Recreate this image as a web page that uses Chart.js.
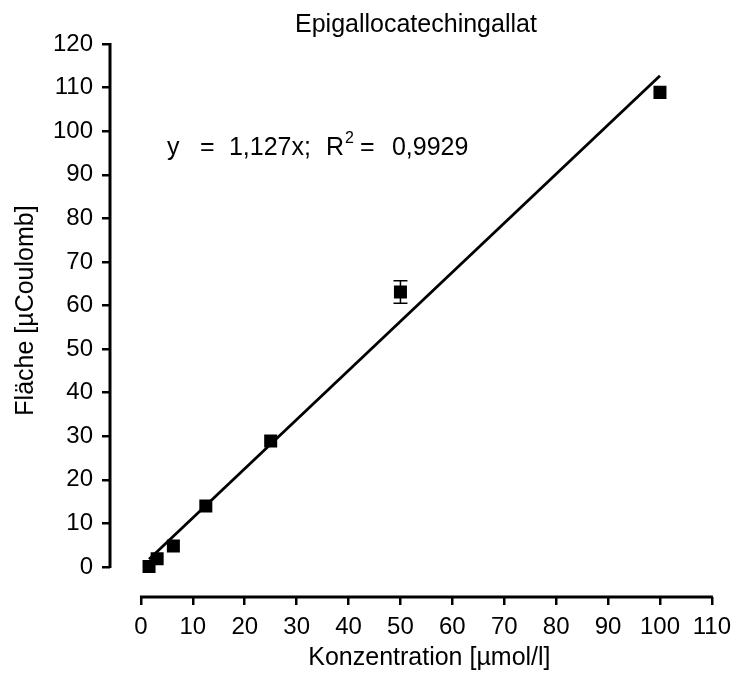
<!DOCTYPE html>
<html>
<head>
<meta charset="utf-8">
<title>Epigallocatechingallat</title>
<script src="https://cdn.jsdelivr.net/npm/chart.js@4.4.1/dist/chart.umd.min.js"></script>
<style>
  html, body { margin: 0; padding: 0; background: #fff; }
  canvas { display: block; }
</style>
</head>
<body>
<canvas id="chart" width="739" height="676"></canvas>
<script>
// Calibration curve, Epigallocatechingallat

const FONT = '"Liberation Sans", Arial, Helvetica, sans-serif';

const xTicks = [0, 10, 20, 30, 40, 50, 60, 70, 80, 90, 100, 110];
const yTicks = [0, 10, 20, 30, 40, 50, 60, 70, 80, 90, 100, 110, 120];

// measured points (mean, SD)
const concentrations = [1.5625, 3.125, 6.25, 12.5, 25, 50, 100];
const areas          = [0.1, 1.9, 4.8, 14.0, 28.9, 63.1, 108.9];
const areaSD         = [0, 0, 0, 0, 0, 2.6, 0];

// regression line end points
const fitX = [1.5625, 100];
const fitY = [1.76, 112.7];

// axis ranges (the axes are drawn offset from the data)
const xRange = [-5.96, 110];
const yRange = [-6.88, 120];

const titleText = 'Epigallocatechingallat';
const xTitle = 'Konzentration [µmol/l]';
const yTitle = 'Fläche [µCoulomb]';

function fixedTicks(values) {
  return scale => { scale.ticks = values.map(v => ({ value: v })); };
}

// white background, offset axis lines, error bars and texts
const decorations = {
  id: 'decorations',
  beforeDraw(chart) {
    const { ctx } = chart;
    ctx.save();
    ctx.fillStyle = '#fff';
    ctx.fillRect(0, 0, chart.width, chart.height);
    ctx.restore();
  },
  afterDraw(chart) {
    const { ctx, chartArea, scales: { x, y } } = chart;
    ctx.save();
    ctx.strokeStyle = '#000';
    ctx.fillStyle = '#000';
    ctx.lineCap = 'butt';

    // axis lines only across the tick range
    ctx.lineWidth = 3;
    ctx.beginPath();
    ctx.moveTo(chartArea.left, y.getPixelForValue(yTicks[0]) + 1);
    ctx.lineTo(chartArea.left, y.getPixelForValue(yTicks[yTicks.length - 1]) - 1);
    ctx.moveTo(x.getPixelForValue(xTicks[0]) - 1, chartArea.bottom);
    ctx.lineTo(x.getPixelForValue(xTicks[xTicks.length - 1]) + 1, chartArea.bottom);
    ctx.stroke();

    // error bars
    ctx.lineWidth = 1.5;
    concentrations.forEach((c, i) => {
      if (!areaSD[i]) return;
      const px = x.getPixelForValue(c);
      const top = y.getPixelForValue(areas[i] + areaSD[i]);
      const bot = y.getPixelForValue(areas[i] - areaSD[i]);
      ctx.beginPath();
      ctx.moveTo(px, top); ctx.lineTo(px, bot);
      ctx.moveTo(px - 7, top); ctx.lineTo(px + 7, top);
      ctx.moveTo(px - 7, bot); ctx.lineTo(px + 7, bot);
      ctx.stroke();
    });

    // title and axis titles
    ctx.font = '25px ' + FONT;
    ctx.textAlign = 'center';
    ctx.textBaseline = 'alphabetic';
    ctx.fillText(titleText, (chartArea.left + chartArea.right) / 2 + 5, 32);
    ctx.fillText(xTitle, (x.getPixelForValue(0) + x.getPixelForValue(110)) / 2 + 3, 665);

    ctx.save();
    ctx.translate(33, (y.getPixelForValue(0) + y.getPixelForValue(120)) / 2 + 5);
    ctx.rotate(-Math.PI / 2);
    ctx.fillText(yTitle, 0, 0);
    ctx.restore();

    // regression equation
    const ax = x.getPixelForValue(5);
    const ay = y.getPixelForValue(94.5);
    ctx.textAlign = 'left';
    ctx.font = '25px ' + FONT;
    ctx.fillText('y', ax, ay);
    ctx.fillText('=', ax + 33, ay);
    ctx.fillText('1,127x;', ax + 62, ay);
    ctx.fillText('R', ax + 159, ay);
    ctx.fillText('=', ax + 193, ay);
    ctx.fillText('0,9929', ax + 225, ay);
    ctx.font = '16px ' + FONT;
    ctx.fillText('2', ax + 178, ay - 12);

    ctx.restore();
  }
};

const ctx = document.getElementById('chart').getContext('2d');

new Chart(ctx, {
  type: 'scatter',
  data: {
    datasets: [
      {
        label: 'Messwerte',
        data: concentrations.map((c, i) => ({ x: c, y: areas[i] })),
        pointStyle: 'rect',
        pointRadius: 9.2,
        pointHoverRadius: 9.2,
        pointBackgroundColor: '#000',
        pointBorderWidth: 0,
        showLine: false,
        order: 0,
      },
      {
        label: 'Regression',
        type: 'line',
        data: fitX.map((v, i) => ({ x: v, y: fitY[i] })),
        borderColor: '#000',
        borderWidth: 2.8,
        pointRadius: 0,
        fill: false,
        order: 1,
      },
    ],
  },
  options: {
    responsive: false,
    animation: false,
    layout: { padding: { top: 44, right: 26, bottom: 0, left: 0 } },
    scales: {
      x: {
        type: 'linear',
        min: xRange[0],
        max: xRange[1],
        afterBuildTicks: fixedTicks(xTicks),
        afterFit: scale => { scale.height = 79; },
        border: { display: false },
        grid: {
          drawOnChartArea: false,
          drawTicks: true,
          tickLength: 8,
          lineWidth: 2.5,
          color: '#000',
        },
        ticks: {
          color: '#000',
          padding: 8,
          maxRotation: 0,
          autoSkip: false,
          font: { family: FONT, size: 24 },
        },
      },
      y: {
        type: 'linear',
        min: yRange[0],
        max: yRange[1],
        afterBuildTicks: fixedTicks(yTicks),
        afterFit: scale => { scale.width = 110; },
        border: { display: false },
        grid: {
          drawOnChartArea: false,
          drawTicks: true,
          tickLength: 8,
          lineWidth: 2.5,
          color: '#000',
        },
        ticks: {
          color: '#000',
          padding: 9,
          autoSkip: false,
          font: { family: FONT, size: 24 },
        },
      },
    },
    plugins: {
      legend: { display: false },
      tooltip: { enabled: false },
      title: { display: false },
    },
  },
  plugins: [decorations],
});
</script>
</body>
</html>
